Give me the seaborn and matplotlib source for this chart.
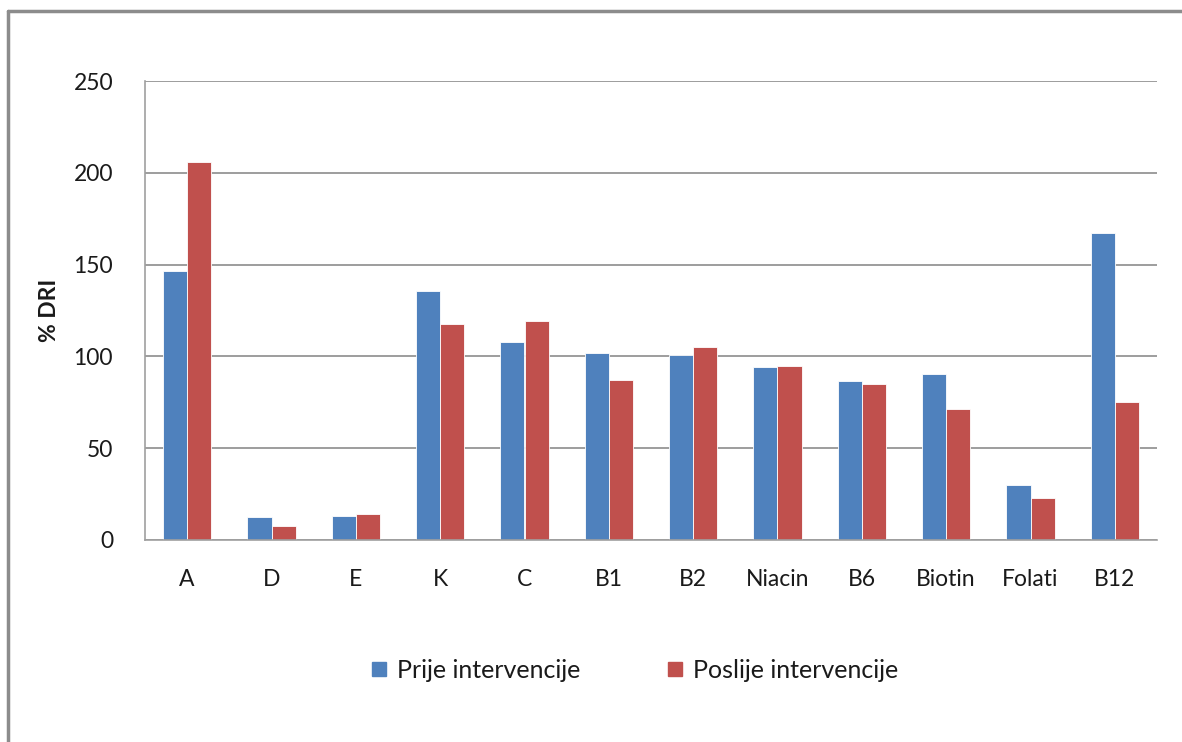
import numpy as np
import pandas as pd
import matplotlib
matplotlib.use("Agg")
import matplotlib.pyplot as plt
from matplotlib.lines import Line2D
import seaborn as sns

# vitamini, % DRI prije i poslije intervencije
vitamini = ['A', 'D', 'E', 'K', 'C', 'B1', 'B2', 'Niacin', 'B6', 'Biotin', 'Folati', 'B12']
prije = [146.5, 12.5, 13.3, 135.4, 107.7, 101.6, 100.9, 94.2, 86.6, 90.2, 29.9, 167.3]
poslije = [205.8, 7.5, 14.0, 117.9, 119.2, 87.0, 105.3, 94.7, 85.2, 71.2, 22.8, 75.1]
serije = ['Prije intervencije', 'Poslije intervencije']
boje = ['#4F81BD', '#C0504D']

df = pd.DataFrame({
    'vitamin': vitamini * 2,
    'serija': [serije[0]] * len(vitamini) + [serije[1]] * len(vitamini),
    'dri': prije + poslije,
})

sns.set_style('white')
plt.rcParams['font.family'] = ['Lato', 'DejaVu Sans']

fig = plt.figure(figsize=(11.82, 7.42), dpi=100)
ax = fig.add_axes([145 / 1182, 1 - 540 / 742, (1157 - 145) / 1182, (540 - 81) / 742])

sns.barplot(data=df, x='vitamin', y='dri', hue='serija', order=vitamini,
            hue_order=serije, palette=boje, saturation=1, width=0.57, gap=0,
            edgecolor='white', linewidth=0.6, ax=ax, legend=False)

ax.set_ylim(0, 250)
ax.set_yticks([0, 50, 100, 150, 200, 250])
ax.set_xlim(-0.5, len(vitamini) - 0.5)
ax.yaxis.grid(True, color='#8c8c8c', linewidth=1.2)
ax.set_axisbelow(True)

for s in ['top', 'right']:
    ax.spines[s].set_visible(False)
for s in ['left', 'bottom']:
    ax.spines[s].set_color('#a0a0a0')
    ax.spines[s].set_linewidth(1.2)

# kvacice na granicama kategorija
ax.set_xticks(np.arange(-0.5, len(vitamini)), minor=True)
ax.set_xticks(np.arange(len(vitamini)))
ax.set_xticklabels(vitamini)
ax.tick_params(axis='x', which='major', length=0, pad=21, labelsize=16.5, labelcolor='#1a1a1a')
ax.tick_params(axis='x', which='minor', length=9, width=1.2, color='#a0a0a0', direction='out')
ax.tick_params(axis='y', length=9, width=1.2, color='#a0a0a0', direction='out',
               pad=14, labelsize=16.5, labelcolor='#1a1a1a')

ax.set_xlabel('')
ax.set_ylabel('% DRI', fontsize=16.5, fontweight='bold', labelpad=10, color='#1a1a1a')

handles = [Line2D([], [], marker='s', linestyle='', markersize=10,
                  markerfacecolor=c, markeredgecolor=c) for c in boje]
fig.legend(handles, serije, loc='center', bbox_to_anchor=(0.533, 1 - 670 / 742),
           ncol=2, frameon=False, fontsize=18, handletextpad=0.0, handlelength=1.4,
           columnspacing=3.1, labelcolor='#1a1a1a')

# okvir grafikona
fig.add_artist(Line2D([8 / 1182, 1.0], [1 - 11 / 742] * 2, color='#8c8c8c', linewidth=2.5))
fig.add_artist(Line2D([8 / 1182] * 2, [0.0, 1 - 11 / 742], color='#8c8c8c', linewidth=2.5))

fig.savefig('out.png', dpi=100)
